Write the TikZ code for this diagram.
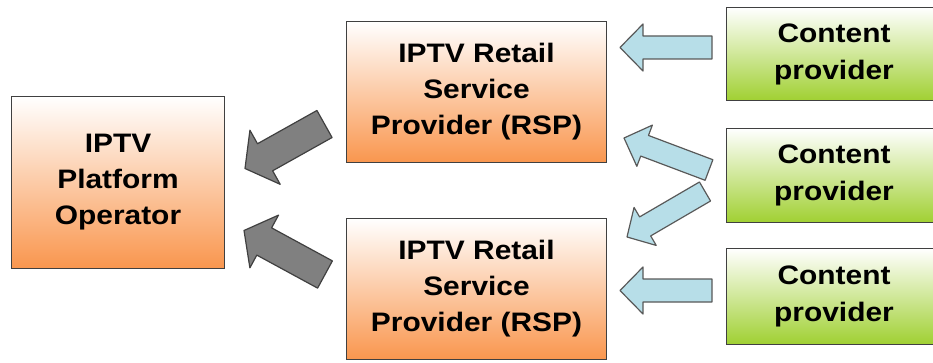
\documentclass[tikz,border=0pt]{standalone}
\usepackage{fontspec}
\setmainfont[FakeStretch=1.12]{Liberation Sans}
\usetikzlibrary{calc}

\definecolor{rsporange}{RGB}{249,150,78}
\definecolor{cpgreen}{RGB}{160,208,50}
\definecolor{arrowcyan}{RGB}{183,222,232}
\definecolor{arrowgray}{RGB}{128,128,128}

\tikzset{   orangebox/.style={draw=black!75,line width=1pt,top color=white,bottom color=rsporange,anchor=north west,align=center,inner sep=0pt,font=\bfseries\fontsize{26.7}{36}\selectfont},
            greenbox/.style={draw=black!75,line width=1pt,top color=white,bottom color=cpgreen,anchor=north west,align=center,inner sep=0pt,font=\bfseries\fontsize{26.7}{37}\selectfont},
            cyanarrow/.style={draw=black!65,line width=1.2pt,fill=arrowcyan,line join=round},
            grayarrow/.style={draw=black!75,line width=1.2pt,fill=arrowgray,line join=round},
}

% block arrow: style, tail, tip, half shaft, half head, head length
\newcommand{\fatarrow}[6]{%
    \coordinate (fb) at ($(#3)!#6pt!(#2)$);
    \draw[#1] ($(#2)!#4pt!90:(#3)$) -- ($(fb)!#4pt!90:(#3)$) -- ($(fb)!#5pt!90:(#3)$) -- (#3)
        -- ($(fb)!#5pt!-90:(#3)$) -- ($(fb)!#4pt!-90:(#3)$) -- ($(#2)!#4pt!-90:(#3)$) -- cycle;
}

\begin{document}
\begin{tikzpicture}[x=1pt,y=-1pt]
    \useasboundingbox (0,0) rectangle (933,363);

    \node[orangebox,minimum width=213pt,minimum height=172pt] (op) at (11,96) {IPTV\\Platform\\Operator}; % operator
    \node[orangebox,minimum width=260pt,minimum height=141pt] (rspa) at (346,21) {IPTV Retail\\Service\\Provider (RSP)}; % retailers
    \node[orangebox,minimum width=260pt,minimum height=141pt] (rspb) at (346,218) {IPTV Retail\\Service\\Provider (RSP)};

    \node[greenbox,minimum width=215pt,minimum height=93pt] (cpa) at (726,7) {Content\\provider}; % content providers
    \node[greenbox,minimum width=215pt,minimum height=94pt] (cpb) at (726,128) {Content\\provider};
    \node[greenbox,minimum width=215pt,minimum height=96pt] (cpc) at (726,248) {Content\\provider};

    \coordinate (ta) at ($(cpa.west)+(-14,-6.5)$);   % arrow ends
    \coordinate (pa) at ($(rspa.east)+(13,-44.5)$);
    \coordinate (tc) at ($(cpc.west)+(-14,-6)$);
    \coordinate (pc) at ($(rspb.east)+(13,1.5)$);
    \coordinate (tb1) at ($(cpb.west)+(-17,-5.5)$);
    \coordinate (pb1) at ($(rspa.south east)+(17,-25)$);
    \coordinate (tb2) at ($(cpb.west)+(-21,16)$);
    \coordinate (pb2) at ($(rspb.north east)+(20,19)$);
    \coordinate (tra) at ($(rspa.west)+(-21.5,32)$);
    \coordinate (pra) at ($(op.east)+(20,-14)$);
    \coordinate (trb) at ($(rspb.west)+(-21,-14.5)$);
    \coordinate (prb) at ($(op.east)+(19,48)$);

    \fatarrow{cyanarrow}{ta}{pa}{11.5}{23.5}{23}
    \fatarrow{cyanarrow}{tc}{pc}{11.5}{23.5}{23}
    \fatarrow{cyanarrow}{tb1}{pb1}{11}{22}{22}
    \fatarrow{cyanarrow}{tb2}{pb2}{11}{22}{21}

    \fatarrow{grayarrow}{tra}{pra}{15.5}{31}{23}
    \fatarrow{grayarrow}{trb}{prb}{15.5}{30}{23}
\end{tikzpicture}
\end{document}
